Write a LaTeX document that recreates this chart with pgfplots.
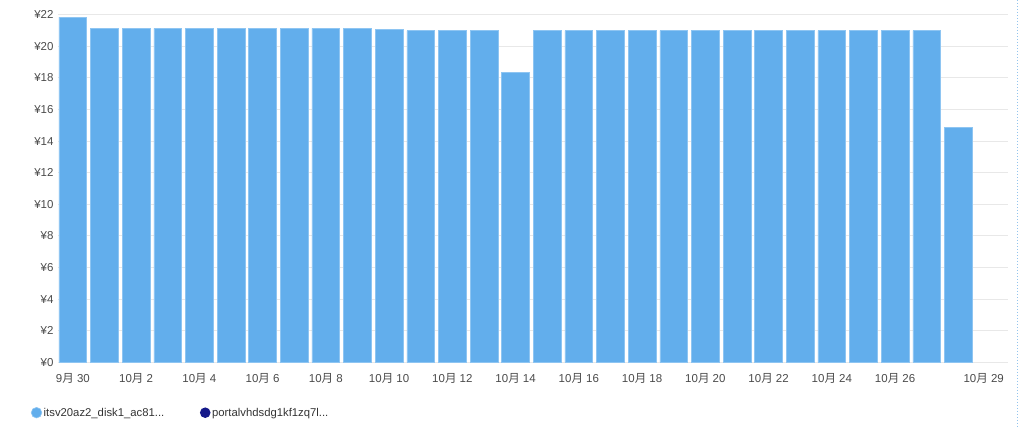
\documentclass[border=0pt]{standalone}
\usepackage{fontspec}
\setmainfont{Liberation Sans}
\newfontfamily\cjk{Noto Sans CJK SC}
\usepackage{pgfplots}
\pgfplotsset{compat=1.18}
\definecolor{barblue}{HTML}{62AEEC}
\definecolor{baredge}{HTML}{8EC5F2}
\definecolor{navy}{HTML}{15198A}
\definecolor{gridc}{HTML}{E8E8E8}
\definecolor{tickc}{HTML}{4A4A4A}
\definecolor{dashc}{HTML}{92C4EE}
\newcommand\M{{\cjk 月}}
\begin{document}
\begin{tikzpicture}
\path[use as bounding box] (-58pt,-64.7pt) rectangle (966pt,362.3pt);
\begin{axis}[
  scale only axis,
  width=950pt, height=347.6pt,
  xmin=-0.47, xmax=29.57,
  ymin=0, ymax=22,
  ytick={0,2,...,22},
  yticklabels={¥0,¥2,¥4,¥6,¥8,¥10,¥12,¥14,¥16,¥18,¥20,¥22},
  xtick={0,2,4,6,8,10,12,14,16,18,20,22,24,26,28.8},
  xticklabels={9\M\ 30,10\M\ 2,10\M\ 4,10\M\ 6,10\M\ 8,10\M\ 10,10\M\ 12,10\M\ 14,10\M\ 16,10\M\ 18,10\M\ 20,10\M\ 22,10\M\ 24,10\M\ 26,10\M\ 29},
  ymajorgrids,
  major grid style={draw=gridc, line width=0.8pt},
  axis line style={draw=none},
  tick style={draw=none},
  tick label style={font=\fontsize{11.5}{13}\selectfont, text=tickc},
  xticklabel style={yshift=-3pt},
  yticklabel style={xshift=-1pt},
  ybar, bar width=0.88, bar shift=0pt,
  legend style={draw=none, fill=none, inner sep=0pt,
    at={(-0.0287,-0.145)}, anchor=west,
    font=\fontsize{11.3}{13}\selectfont, text=black!80,
    nodes={inner sep=1.6pt},
    /tikz/every odd column/.append style={column sep=0pt},
    /tikz/every even column/.append style={column sep=34pt}},
  legend columns=2,
  legend cell align=left,
  legend image code/.code={\fill[#1] (5.3pt,0pt) circle (5.3pt);},
]
\addplot[fill=barblue, draw=baredge, line width=0.6pt] coordinates {
(0,21.84) (1,21.13) (2,21.13) (3,21.13) (4,21.13) (5,21.13) (6,21.13) (7,21.13)
(8,21.13) (9,21.13) (10,21.09) (11,20.99) (12,20.99) (13,20.99) (14,18.35)
(15,20.99) (16,20.99) (17,20.99) (18,20.99) (19,20.99) (20,20.99) (21,20.99)
(22,20.99) (23,20.99) (24,20.99) (25,20.99) (26,20.99) (27,20.99) (28,14.85)
};
\addlegendentry{itsv20az2\_disk1\_ac81...}
\addlegendimage{fill=navy, draw=none}
\addlegendentry{portalvhdsdg1kf1zq7l...}
\end{axis}
\draw[dashc, line width=1.5pt, dash pattern=on 1.5pt off 1.5pt] (959.5pt,362.3pt) -- (959.5pt,-64.7pt);
\end{tikzpicture}
\end{document}
